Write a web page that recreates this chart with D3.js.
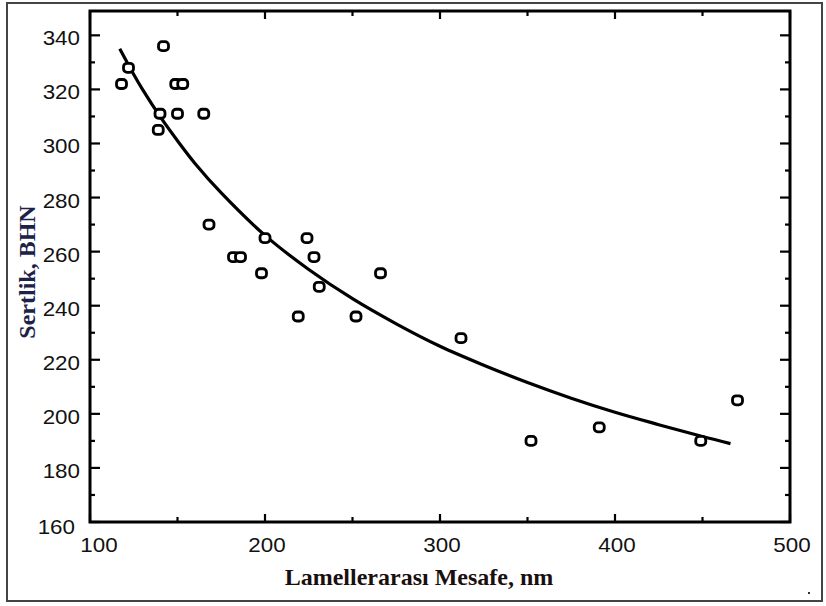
<!DOCTYPE html>
<html><head><meta charset="utf-8">
<script src="https://cdn.jsdelivr.net/npm/d3@7"></script>
<style>body{margin:0;background:#fff}svg{display:block}</style>
</head><body>
<svg id="c" width="826" height="606"></svg>
<script>
// measured points: interlamellar spacing (nm) vs hardness (BHN)
const spacing  = [118,122,142,140,139,149,153,150,165,168,182,186,198,200,219,224,228,231,252,266,312,352,391,449,470];
const hardness = [322,328,336,311,305,322,322,311,311,270,258,258,252,265,236,265,258,247,236,252,228,190,195,190,205];
// fitted curve
const curveX = [117,125,130,140,150,160,175,200,225,250,275,300,325,350,375,400,425,450,466];
const curveY = [335,325.5,320,310,301,292.6,281.7,266,253.4,242.6,233.3,225,218,211.6,205.8,200.6,196,191.6,189];
const xTicks = [100,200,300,400,500];
const yTicks = [160,180,200,220,240,260,280,300,320,340];
const xTitle = "Lamellerarası Mesafe, nm";
const yTitle = "Sertlik, BHN";

const svg = d3.select("#c");
const x = d3.scaleLinear().domain([100,500]).range([90,790]);
const y = d3.scaleLinear().domain([160,349]).range([522,11]);

// outer border
svg.append("rect").attr("x",7).attr("y",3).attr("width",815).attr("height",598)
  .attr("fill","none").attr("stroke","#444").attr("stroke-width",2);
svg.append("rect").attr("x",808).attr("y",592).attr("width",2).attr("height",2).attr("fill","#333");

const g = svg.append("g");
const tickStroke = 2.2;
const xMinor = d3.range(100,501,50);
xMinor.forEach(v=>{
  const major = xTicks.includes(v);
  const L = major?8:5;
  g.append("line").attr("x1",x(v)).attr("x2",x(v)).attr("y1",y(160)).attr("y2",y(160)-L).attr("stroke","#000").attr("stroke-width",tickStroke);
  g.append("line").attr("x1",x(v)).attr("x2",x(v)).attr("y1",y(349)).attr("y2",y(349)+L).attr("stroke","#000").attr("stroke-width",tickStroke);
});
const yMinor = d3.range(160,350,10);
yMinor.forEach(v=>{
  const major = yTicks.includes(v);
  const L = major?10:5;
  g.append("line").attr("x1",x(100)).attr("x2",x(100)+L).attr("y1",y(v)).attr("y2",y(v)).attr("stroke","#000").attr("stroke-width",tickStroke);
  g.append("line").attr("x1",x(500)).attr("x2",x(500)-L).attr("y1",y(v)).attr("y2",y(v)).attr("stroke","#000").attr("stroke-width",tickStroke);
});
// frame
g.append("rect").attr("x",x(100)).attr("y",y(349)).attr("width",x(500)-x(100)).attr("height",y(160)-y(349))
  .attr("fill","none").attr("stroke","#000").attr("stroke-width",3);

// tick labels (slightly stretched horizontally like the scan)
const tf = "'Liberation Sans', Arial, sans-serif";
svg.selectAll(".yl").data(yTicks).enter().append("text")
  .attr("transform",d=>`translate(${d===160?75:80},${y(d)+(d===160?12:10)}) scale(1.12,1)`)
  .attr("text-anchor","end").attr("font-family",tf).attr("font-size",20).attr("fill","#111")
  .text(d=>d);
svg.selectAll(".xl").data(xTicks).enter().append("text")
  .attr("transform",d=>`translate(${x(d)+(d===100?9:2)},552) scale(1.12,1)`)
  .attr("text-anchor","middle").attr("font-family",tf).attr("font-size",20).attr("fill","#111")
  .text(d=>d);

// titles
svg.append("text").attr("x",419).attr("y",585).attr("text-anchor","middle")
  .attr("font-family","'Liberation Serif','Times New Roman',serif").attr("font-weight","bold")
  .attr("font-size",24).attr("fill","#1a0f0f").text(xTitle);
svg.append("text").attr("transform","translate(35,272) rotate(-90)").attr("text-anchor","middle")
  .attr("font-family","'Liberation Serif','Times New Roman',serif").attr("font-weight","bold")
  .attr("font-size",24).attr("fill","#1c2248").text(yTitle);

// curve
const curve = curveX.map((v,i)=>[v,curveY[i]]);
g.append("path").datum(curve)
  .attr("d",d3.line().x(d=>x(d[0])).y(d=>y(d[1])).curve(d3.curveCatmullRom))
  .attr("fill","none").attr("stroke","#000").attr("stroke-width",3.2);

// markers
const pts = spacing.map((v,i)=>[v,hardness[i]]);
g.selectAll(".pt").data(pts).enter().append("rect")
  .attr("x",d=>x(d[0])-5).attr("y",d=>y(d[1])-4.5).attr("width",10).attr("height",9)
  .attr("rx",3.5).attr("ry",3.5).attr("fill","#fff").attr("stroke","#000").attr("stroke-width",2.8);
</script>
</body></html>
